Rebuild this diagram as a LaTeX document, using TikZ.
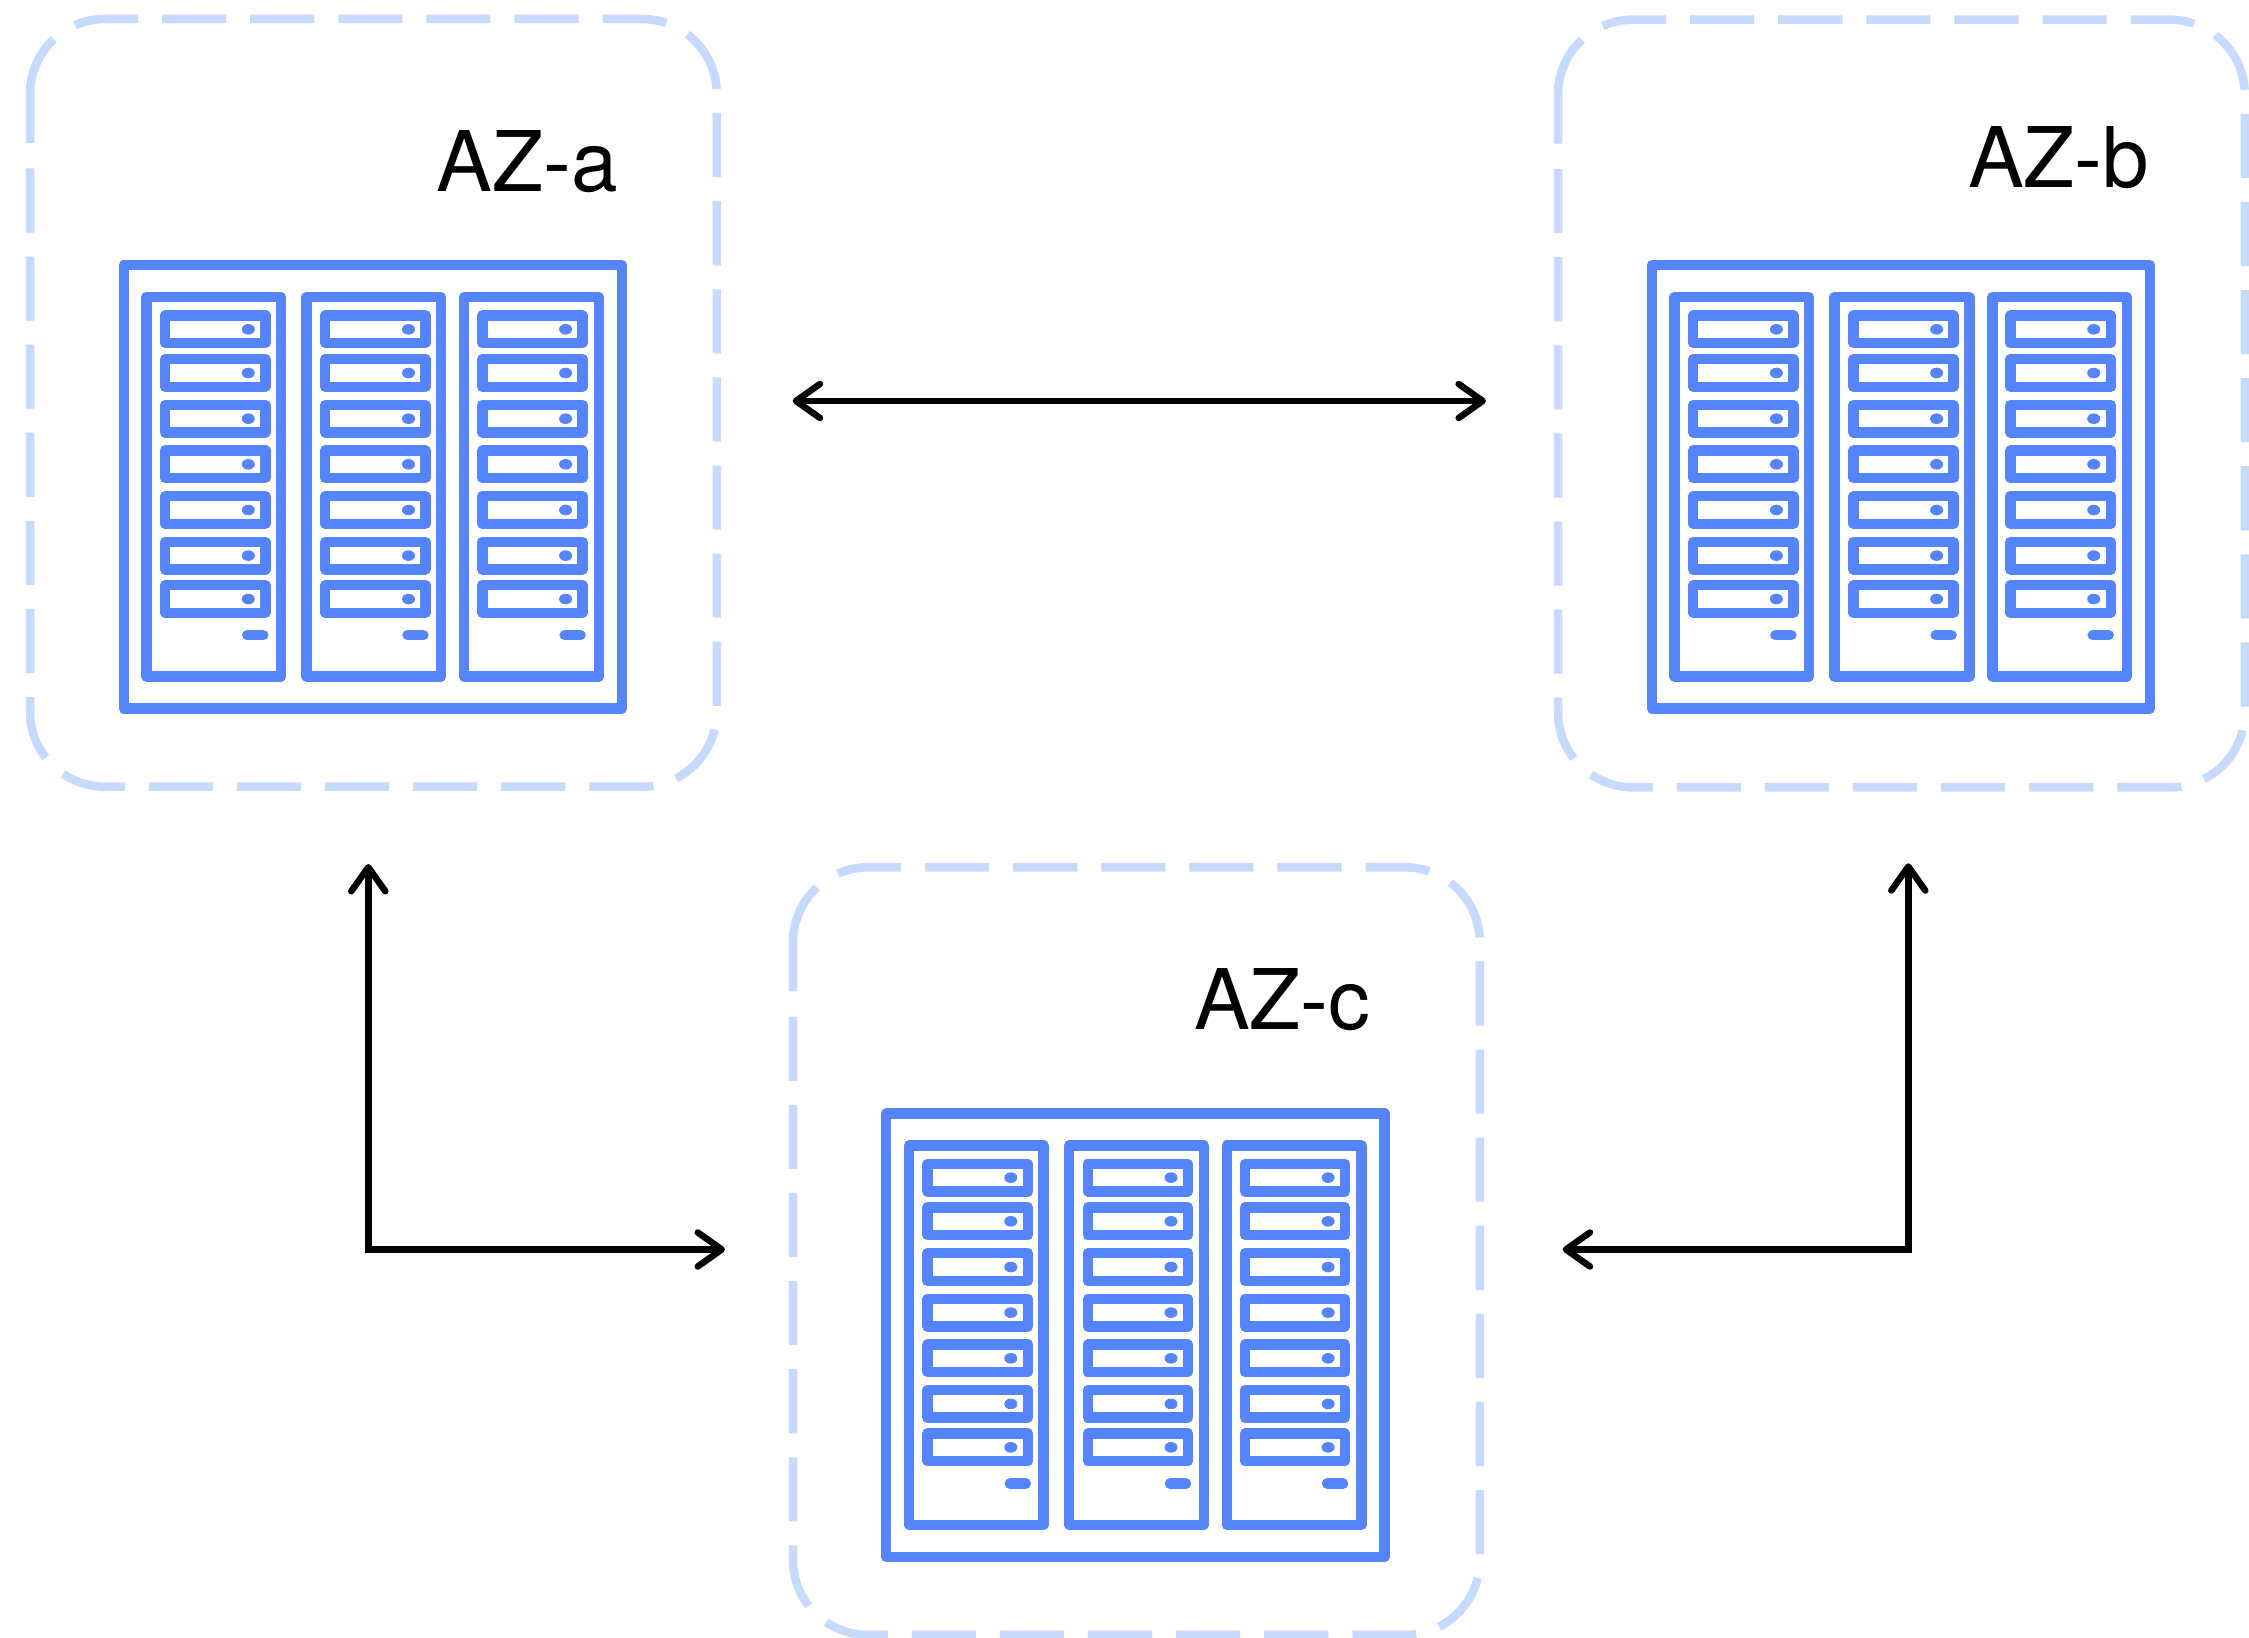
\documentclass[tikz,border=0pt]{standalone}
\usepackage{fontspec}
\setmainfont{TeX Gyre Heros}
\usetikzlibrary{arrows.meta}
\definecolor{rackblue}{HTML}{5484FF}
\definecolor{zoneblue}{HTML}{C6D9FF}
\tikzset{
	zoneline/.style={line width=0.85mm, color=zoneblue},
	rackline/.style={line width=1.04mm, color=rackblue, line join=round},
	link/.style={line width=0.65mm, {Straight Barb[length=2.4mm,width=3.4mm,round]}-{Straight Barb[length=2.4mm,width=3.4mm,round]}},
	zonelabel/.style={anchor=base west, inner sep=0pt, font=\fontsize{23.8pt}{24pt}\selectfont}
}
\def\zonebox(#1,#2){
	\begin{scope}[shift={(#1,#2)}]
		\draw[zoneline, dash pattern=on 6.41mm off 2.4mm] (0.4485, -0.0632) arc (113.7:90:0.75) -- (6.118, 0) arc (90:0:0.75) -- (6.868, -6.927) arc (0:-90:0.75) -- (0.75, -7.677) arc (-90:-180:0.75) -- (0, -1.3);
		\draw[zoneline] (0, -1.24) -- (0, -0.75) arc (180:133:0.75);
	\end{scope}
}
\def\rack(#1,#2){
	\begin{scope}[shift={(#1,#2)}]
		\draw[rackline] (0, 0) rectangle (4.981, -4.434);
		\foreach \cx/\sx in {0.226/0.187, 1.828/0.187, 3.405/0.181}{
			\draw[rackline] (\cx, -0.319) rectangle (\cx+1.347, -4.112);
			\foreach \sy in {0.503, 0.94, 1.397, 1.853, 2.31, 2.766, 3.2}{
				\draw[rackline] (\cx+\sx, -\sy) rectangle (\cx+\sx+1.003, -\sy-0.275);
				\fill[rackblue] (\cx+\sx+0.833, -\sy-0.1375) ellipse (0.065 and 0.053);
			}
			\draw[rackline, line cap=round] (\cx+\sx+0.823, -3.70) -- (\cx+\sx+0.983, -3.70);
		}
	\end{scope}
}

\begin{document}
\begin{tikzpicture}
	%%%%% ZONES %%%%%
	\useasboundingbox (0, 0) rectangle (22.49, 16.38);
	
	\zonebox(0.30, 16.19)
	\zonebox(15.58, 16.183)
	\zonebox(7.93, 7.707)
	
	\rack(1.237, 13.727)
	\rack(16.518, 13.727)
	\rack(8.862, 5.244)
	
	\node[zonelabel] (labela) at (4.36, 14.468) {AZ-a};
	\node[zonelabel] (labelb) at (19.673, 14.501) {AZ-b};
	\node[zonelabel] (labelc) at (11.933, 6.085) {AZ-c};
	
	%%%%% LINKS %%%%%
	\coordinate (abwest) at (7.927, 12.37);
	\coordinate (abeast) at (14.859, 12.37);
	\coordinate (acup) at (3.683, 7.74);
	\coordinate (accorner) at (3.683, 3.885);
	\coordinate (aceast) at (7.25, 3.885);
	\coordinate (bcup) at (19.083, 7.747);
	\coordinate (bccorner) at (19.083, 3.885);
	\coordinate (bcwest) at (15.627, 3.885);
	
	\draw[link] (abwest) -- (abeast);
	\draw[link] (acup) -- (accorner) -- (aceast);
	\draw[link] (bcup) -- (bccorner) -- (bcwest);
\end{tikzpicture}
\end{document}
